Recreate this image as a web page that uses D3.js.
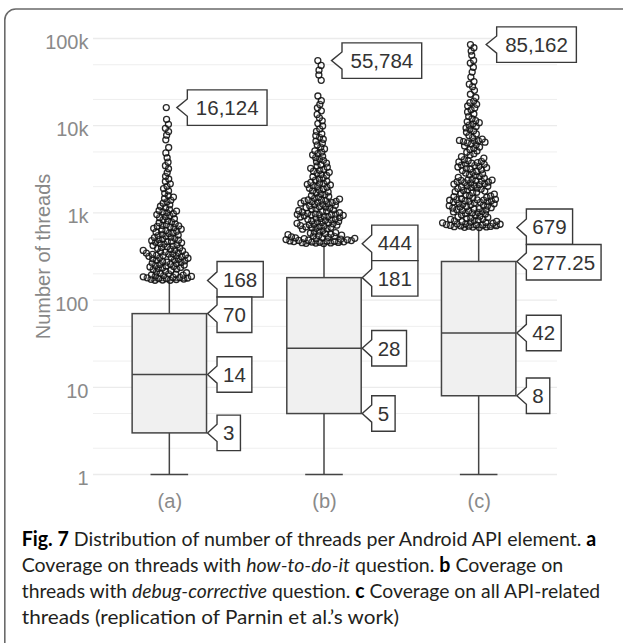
<!DOCTYPE html>
<html><head><meta charset="utf-8">
<script src="https://cdn.jsdelivr.net/npm/d3@7"></script>
<style>html,body{margin:0;padding:0;background:#fff;}svg{display:block}</style>
</head><body>
<svg id="chart" width="623" height="643"></svg>
<script>
// ---------------- data ----------------
const categories = ["(a)", "(b)", "(c)"];
const lowerWhisker = [1, 1, 1];
const q1 = [3, 5, 8];
const median = [14, 28, 42];
const q3 = [70, 181, 277.25];
const upperWhisker = [168, 444, 679];
const maxValue = [16124, 55784, 85162];

const outliersA = [169,169,170,172,173,174,176,177,179,180,182,183,185,187,189,191,193,195,198,200,203,206,210,214,219,
224,227,231,233,237,240,243,246,250,252,256,259,262,266,270,273,277,282,286,289,294,298,302,305,310,314,318,321,324,326,330,
334,337,342,346,351,355,360,366,371,377,383,391,396,402,409,416,423,430,438,446,454,461,467,474,480,487,
494,502,511,521,529,540,549,557,568,581,590,604,616,627,641,651,665,676,690,701,709,719,
733,750,771,791,811,834,857,882,903,929,956,978,1004,1029,1049,1066,
1098,1147,1192,1238,1293,1341,1398,1462,1518,1583,
1676,1788,1903,2018,2154,2296,2447,2624,
2897,3210,3480,3820,4290,4870,
5620,6880,7790,8570,9340,10380,11820,16124];

const outliersB = [446,448,451,453,456,458,461,463,466,469,472,474,477,481,484,487,491,495,499,503,507,511,516,521,526,531,537,543,549,555,562,569,577,586,595,605,617,632,
651,659,667,674,683,691,698,706,715,724,732,741,750,759,769,778,789,799,809,821,831,842,852,864,876,886,897,907,918,927,937,946,953,958,963,968,
976,989,1004,1021,1034,1051,1066,1081,1099,1114,1133,1149,1169,1185,1205,1221,1241,1257,1277,1293,1311,1326,1344,1357,1373,1385,1398,1413,
1442,1473,1511,1546,1578,1621,1658,1702,1739,1787,1829,1876,1918,1967,2008,2052,2088,2126,2158,2192,
2243,2308,2382,2447,2523,2598,2683,2757,2842,2918,3004,3077,3162,3248,3343,
3452,3577,3724,3858,4003,4148,4302,4457,4624,4797,4983,5148,
5410,5690,6010,6290,6660,6990,7360,7690,8060,
8610,9190,9920,10590,11380,12310,
13480,14820,16050,17520,19380,21900,33100,38200,43300,49100,55784];

const outliersC = [680,683,687,691,695,700,704,709,713,719,723,729,735,741,748,754,761,769,776,784,793,801,811,819,829,841,850,861,873,888,899,916,931,951,
971,984,999,1010,1025,1036,1051,1063,1079,1091,1107,1119,1136,1149,1166,1179,1196,1209,1227,1241,1259,1273,1291,1305,1322,1335,1351,1362,1376,1385,1397,1403,1411,1417,
1433,1461,1484,1511,1533,1562,1584,1613,1639,1669,1695,1725,1751,1781,1808,1841,1869,1902,1929,1961,1988,2021,2049,2082,2108,2141,2168,2202,2228,2262,2288,2317,2338,2362,2379,2396,
2437,2503,2558,2622,2677,2743,2798,2862,2917,2993,3058,3122,3177,3243,3298,3362,3418,3483,3537,3603,3658,3722,3777,3843,3898,3962,
4078,4253,4418,4603,4777,4963,5138,5323,5497,5683,5857,6043,6198,6353,6477,6583,6657,6723,6783,
7010,7340,7710,8040,8410,8740,9110,9440,9810,10140,10510,10840,11160,11410,
12020,12790,13620,14380,15230,15980,16830,17580,18420,19180,
21050,22950,25480,28030,29970,32040,
36100,41200,46800,52300,56100,64200,71800,78300,85162];

const yTickValues = [1, 10, 100, 1000, 10000, 100000];
const yTickLabels = ["1", "10", "100", "1k", "10k", "100k"];
const yMinorValues = [2, 5, 20, 50, 200, 500, 2000, 5000, 20000, 50000];
const yTitle = "Number of threads";

const captionLines = [
  [["b", "Fig. 7"], ["n", " Distribution of number of threads per Android API element. "], ["b", "a"]],
  [["n", "Coverage on threads with "], ["i", "how-to-do-it"], ["n", " question. "], ["b", "b"], ["n", " Coverage on"]],
  [["n", "threads with "], ["i", "debug-corrective"], ["n", " question. "], ["b", "c"], ["n", " Coverage on all API-related"]],
  [["n", "threads (replication of Parnin et al.\u2019s work)"]]
];

// ---------------- drawing ----------------
const svg = d3.select("#chart");
const FONT = "Liberation Sans, Arial, sans-serif";
const panelL = 93, panelR = 557;

const y = d3.scaleLog().domain([1, 100000]).range([474.5, 38.5]);
const x = d3.scalePoint().domain(categories).range([92, 556]).padding(0.5);
const boxHalf = 37.2, capHalf = 18.8;

// frame
svg.append("path")
  .attr("d", "M4.8,650 V20 A11,11 0 0 1 15.8,9 H630")
  .attr("fill", "none").attr("stroke", "#6a6a6a").attr("stroke-width", 1.6);

// gridlines
svg.append("g").selectAll("line").data(yMinorValues).join("line")
  .attr("x1", panelL).attr("x2", panelR)
  .attr("y1", d => y(d)).attr("y2", d => y(d))
  .attr("stroke", "#efefef").attr("stroke-width", 1);
svg.append("g").selectAll("line").data(yTickValues).join("line")
  .attr("x1", panelL).attr("x2", panelR)
  .attr("y1", d => y(d)).attr("y2", d => y(d))
  .attr("stroke", "#ebebeb").attr("stroke-width", 1.3);

// y axis (labels only)
const yAxis = d3.axisLeft(y).tickValues(yTickValues)
  .tickFormat((d, i) => yTickLabels[i]).tickSize(0).tickPadding(4);
const gy = svg.append("g").attr("transform", `translate(${panelL - 0.5},0)`).call(yAxis);
gy.attr("font-family", FONT).attr("font-size", 20);
gy.select(".domain").remove();
gy.selectAll("text").attr("fill", "#8a8a8a").attr("dy", 10);

// x axis labels
const xAxis = d3.axisBottom(x).tickSize(0).tickPadding(0);
const gx = svg.append("g").attr("transform", "translate(0,490)").call(xAxis);
gx.attr("font-family", FONT).attr("font-size", 20);
gx.select(".domain").remove();
gx.selectAll("text").attr("fill", "#8a8a8a").attr("dy", 18);

// y title
svg.append("text")
  .attr("transform", `translate(49.5,${(y(1) + y(100000)) / 2}) rotate(-90)`)
  .attr("text-anchor", "middle").attr("font-family", FONT).attr("font-size", 20)
  .attr("fill", "#888").text(yTitle);

// boxes
const stats = categories.map((c, i) => ({c, lo: lowerWhisker[i], q1: q1[i], med: median[i], q3: q3[i], hi: upperWhisker[i], max: maxValue[i]}));
const STROKE = "#444";
const gBox = svg.append("g");
stats.forEach(s => {
  const cx = x(s.c);
  gBox.append("line").attr("x1", cx).attr("x2", cx).attr("y1", y(s.q1)).attr("y2", y(s.lo)).attr("stroke", STROKE).attr("stroke-width", 1.5);
  gBox.append("line").attr("x1", cx).attr("x2", cx).attr("y1", y(s.q3)).attr("y2", y(s.hi)).attr("stroke", STROKE).attr("stroke-width", 1.5);
  [s.lo, s.hi].forEach(v => gBox.append("line").attr("x1", cx - capHalf).attr("x2", cx + capHalf)
    .attr("y1", y(v)).attr("y2", y(v)).attr("stroke", STROKE).attr("stroke-width", 1.5));
  gBox.append("rect").attr("x", cx - boxHalf).attr("width", 2 * boxHalf)
    .attr("y", y(s.q3)).attr("height", y(s.q1) - y(s.q3))
    .attr("fill", "#f0f0f0").attr("stroke", STROKE).attr("stroke-width", 1.5);
  gBox.append("line").attr("x1", cx - boxHalf).attr("x2", cx + boxHalf)
    .attr("y1", y(s.med)).attr("y2", y(s.med)).attr("stroke", STROKE).attr("stroke-width", 1.5);
});

// outliers (beeswarm via force collide, y fixed at value)
const outlierSets = [outliersA, outliersB, outliersC];
const gPts = svg.append("g");
outlierSets.forEach((vals, i) => {
  const cx = x(categories[i]);
  const nodes = vals.map(v => ({v, fy: y(v)}));
  const sim = d3.forceSimulation(nodes)
    .force("x", d3.forceX(cx).strength(0.06))
    .force("collide", d3.forceCollide(2.05).iterations(3))
    .stop();
  for (let k = 0; k < 400; k++) sim.tick();
  gPts.append("g").selectAll("circle").data(nodes).join("circle")
    .attr("cx", d => d.x).attr("cy", d => d.fy).attr("r", 3)
    .attr("fill", "#fff").attr("fill-opacity", 0.15)
    .attr("stroke", "#111").attr("stroke-opacity", 0.9).attr("stroke-width", 1.3);
});

// callout labels
const fmt = d3.format(",");
const LH = 35.5, PTR = 8.6;
const gLab = svg.append("g");
function drawLabel(v, cy, tipX, tipY, gap, pad) {
  const g = gLab.append("g");
  const path = g.append("path");
  const left = tipX + gap;
  const t = g.append("text").attr("font-family", FONT).attr("font-size", 20.5)
    .attr("fill", "#333").attr("dy", "0.36em").attr("y", cy).text(fmt(v));
  const w = t.node().getComputedTextLength() + 2 * pad;
  t.attr("x", left + w / 2).attr("text-anchor", "middle");
  const top = cy - LH / 2, bot = cy + LH / 2;
  const p1 = Math.max(top, tipY - PTR), p2 = Math.min(bot, tipY + PTR);
  path.attr("d", `M${left},${top}H${left + w}V${bot}H${left}V${p2}L${tipX},${tipY}L${left},${p1}Z`)
    .attr("fill", "#fff").attr("stroke", "#3a3a3a").attr("stroke-width", 1.4).attr("stroke-linejoin", "miter");
}
stats.forEach(s => {
  const cx = x(s.c);
  const items = [s.hi, s.q3, s.med, s.q1].map(v => ({v, ty: y(v), cy: y(v)}));
  for (let it = 0; it < 50; it++) {
    items.sort((a, b) => a.cy - b.cy);
    for (let j = 1; j < items.length; j++) {
      const ov = LH - (items[j].cy - items[j - 1].cy);
      if (ov > 0) { items[j].cy += ov / 2; items[j - 1].cy -= ov / 2; }
    }
  }
  items.forEach(d => drawLabel(d.v, d.cy, cx + boxHalf + 1, d.ty, 9.5, 6));
  drawLabel(s.max, y(s.max), cx + 7.5, y(s.max), 10.5, 8.5);
});

// caption: each line scaled horizontally to the width it has in the reference
const capG = svg.append("g").attr("font-family", "Lato, 'Open Sans', sans-serif").attr("font-size", 20).attr("fill", "#231f20");
const capX = 21.7;
const capBase = [546, 572, 597.5, 623.5];
const capWidth = [575, 542, 579, 377.5];
captionLines.forEach((segs, li) => {
  const t = capG.append("text").attr("x", 0).attr("y", 0);
  segs.forEach(([st, txt]) => {
    const ts = t.append("tspan").text(txt);
    if (st === "b") ts.attr("font-weight", "bold").attr("fill", "#000");
    if (st === "i") ts.attr("font-style", "italic");
  });
  const w = t.node().getComputedTextLength();
  t.attr("transform", `translate(${capX},${capBase[li]}) scale(${capWidth[li] / w},1)`);
});
</script>
</body></html>
